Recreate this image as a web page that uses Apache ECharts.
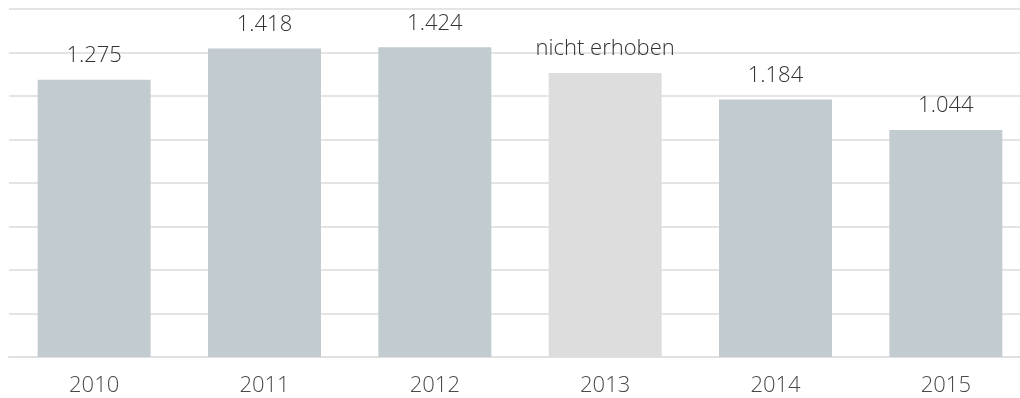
<!DOCTYPE html>
<html>
<head>
<meta charset="utf-8">
<script src="https://cdn.jsdelivr.net/npm/echarts@6/dist/echarts.min.js"></script>
<style>
  html, body { margin: 0; padding: 0; background: #fff; }
  #chart { width: 1020px; height: 398px; }
</style>
</head>
<body>
<div id="chart"></div>
<script>
// Jahre und Werte
const years = ['2010', '2011', '2012', '2013', '2014', '2015'];
const values = [1275, 1418, 1424, 1306, 1184, 1044];
// Jahre ohne Erhebung (Balken heller, Beschriftung als Text)
const notCollected = [false, false, false, true, false, false];
const notCollectedText = 'nicht erhoben';

const barColor = '#c2cbd0';
const barColorMissing = '#dddddd';

const fmt = new Intl.NumberFormat('de-DE');

const chart = echarts.init(document.getElementById('chart'));
chart.setOption({
  animation: false,
  // the plot area runs past the right edge, so the last gridlines reach the border
  grid: { left: 9, top: 9, width: 1022, height: 348, outerBoundsMode: 'none', containLabel: false },
  xAxis: {
    type: 'category',
    data: years,
    axisLine: { lineStyle: { color: '#e0e0e0', width: 2 } },
    axisTick: { show: false },
    axisLabel: {
      color: '#4a4a4a',
      fontFamily: 'Open Sans',
      fontWeight: 300,
      fontSize: 22,
      margin: 18
    }
  },
  yAxis: {
    type: 'value',
    min: 0,
    max: 1600,
    interval: 200,
    axisLine: { show: false },
    axisTick: { show: false },
    axisLabel: { show: false },
    splitLine: { lineStyle: { color: '#e4e4e4', width: 2 } }
  },
  series: [{
    type: 'bar',
    barWidth: 113,
    data: values.map((v, i) => ({
      value: v,
      itemStyle: { color: notCollected[i] ? barColorMissing : barColor }
    })),
    label: {
      show: true,
      position: 'top',
      distance: 13,
      color: '#333',
      fontFamily: 'Open Sans',
      fontWeight: 300,
      fontSize: 22,
      formatter: p => notCollected[p.dataIndex] ? notCollectedText : fmt.format(p.value)
    }
  }]
});
</script>
</body>
</html>
